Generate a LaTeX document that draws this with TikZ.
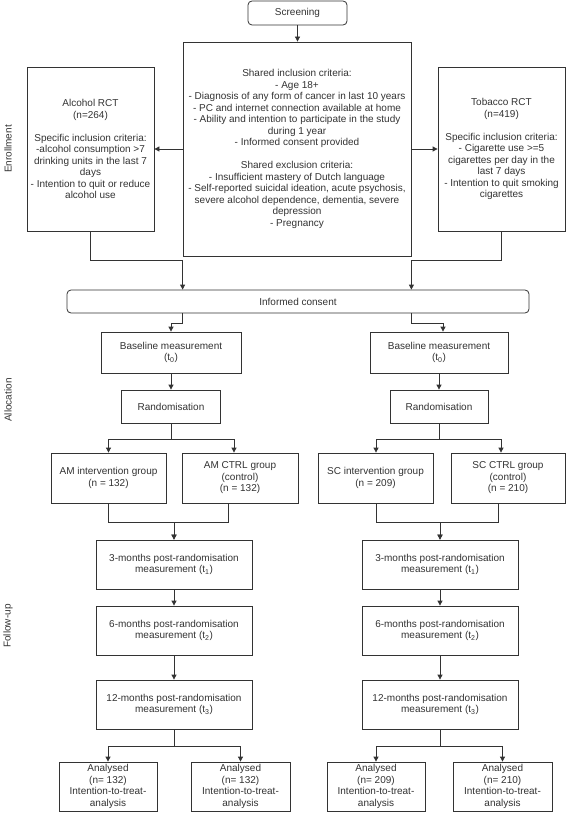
\documentclass[tikz,border=0pt]{standalone}
\usepackage{fontspec}
\setmainfont{Liberation Sans}
\usetikzlibrary{arrows.meta,calc}
\definecolor{linec}{HTML}{333333}
\definecolor{textc}{HTML}{333333}
\begin{document}
\begin{tikzpicture}[x=1pt,y=-1pt,
  box/.style={draw=linec, line width=0.8pt, fill=white, align=center, inner sep=0pt, text=textc, font=\fontsize{10}{11.5}\selectfont},
  rbox/.style={box, rounded corners=4pt},
  arr/.style={draw=linec, line width=0.8pt, -{Triangle[length=5pt,width=5pt]}},
  ln/.style={draw=linec, line width=0.8pt},
  lbl/.style={text=textc, font=\fontsize{10}{11.5}\selectfont, inner sep=0pt, rotate=90}]
\useasboundingbox (0,0) rectangle (567,813);
% top part
\node[rbox, minimum width=99pt, minimum height=24pt] (screen) at (297.5,13) {Screening};
\node[box, minimum width=228pt, minimum height=214pt] (shared) at (297,149) {Shared inclusion criteria:\\- Age 18+\\- Diagnosis of any form of cancer in last 10 years\\- PC and internet connection available at home\\- Ability and intention to participate in the study\\during 1 year\\- Informed consent provided\\[11.5pt]Shared exclusion criteria:\\- Insufficient mastery of Dutch language\\- Self-reported suicidal ideation, acute psychosis,\\severe alcohol dependence, dementia, severe\\depression\\- Pregnancy};
\node[box, minimum width=127pt, minimum height=164pt] (alc) at (90.5,149) {Alcohol RCT\\(n=264)\\[11.5pt]Specific inclusion criteria:\\-alcohol consumption >7\\drinking units in the last 7\\days\\- Intention to quit or reduce\\alcohol use};
\node[box, minimum width=127pt, minimum height=164pt] (tob) at (501.5,149) {Tobacco RCT\\(n=419)\\[11.5pt]Specific inclusion criteria:\\- Cigarette use >=5\\cigarettes per day in the\\last 7 days\\- Intention to quit smoking\\cigarettes};
\node[rbox, minimum width=462pt, minimum height=23pt] (consent) at (298,301.5) {Informed consent};
% allocation
\node[box, minimum width=140pt, minimum height=41pt] (base1) at (171,352.5) {Baseline measurement\\(t\textsubscript{0})};
\node[box, minimum width=138pt, minimum height=41pt] (base2) at (439,352.5) {Baseline measurement\\(t\textsubscript{0})};
\node[box, minimum width=99pt, minimum height=33pt] (rand1) at (171,406.5) {Randomisation};
\node[box, minimum width=98pt, minimum height=33pt] (rand2) at (439,406.5) {Randomisation};
\node[box, minimum width=115pt, minimum height=50pt] (am1) at (108.5,478) {AM intervention group\\(n = 132)};
\node[box, minimum width=116pt, minimum height=50pt] (am2) at (240,478) {AM CTRL group\\(control)\\(n = 132)};
\node[box, minimum width=115pt, minimum height=50pt] (sc1) at (375.5,478) {SC intervention group\\(n = 209)};
\node[box, minimum width=114pt, minimum height=50pt] (sc2) at (508,478) {SC CTRL group\\(control)\\(n = 210)};
% follow-up
\node[box, minimum width=156pt, minimum height=49pt] (m3a) at (174,564.5) {3-months post-randomisation\\measurement (t\textsubscript{1})};
\node[box, minimum width=156pt, minimum height=49pt] (m6a) at (174,630.5) {6-months post-randomisation\\measurement (t\textsubscript{2})};
\node[box, minimum width=156pt, minimum height=49pt] (m12a) at (174,704.5) {12-months post-randomisation\\measurement (t\textsubscript{3})};
\node[box, minimum width=156pt, minimum height=49pt] (m3b) at (440,564.5) {3-months post-randomisation\\measurement (t\textsubscript{1})};
\node[box, minimum width=156pt, minimum height=49pt] (m6b) at (440,630.5) {6-months post-randomisation\\measurement (t\textsubscript{2})};
\node[box, minimum width=156pt, minimum height=49pt] (m12b) at (440,704.5) {12-months post-randomisation\\measurement (t\textsubscript{3})};
\node[box, minimum width=98pt, minimum height=49pt] (an1) at (108,786.5) {Analysed\\(n= 132)\\Intention-to-treat-\\analysis};
\node[box, minimum width=99pt, minimum height=49pt] (an2) at (240.5,786.5) {Analysed\\(n= 132)\\Intention-to-treat-\\analysis};
\node[box, minimum width=98pt, minimum height=49pt] (an3) at (376,786.5) {Analysed\\(n= 209)\\Intention-to-treat-\\analysis};
\node[box, minimum width=99pt, minimum height=49pt] (an4) at (502.5,786.5) {Analysed\\(n= 210)\\Intention-to-treat-\\analysis};
% side labels
\node[lbl] (enr) at (8,149) {Enrollment};
\node[lbl] (allo) at (8,400) {Allocation};
\node[lbl] (fol) at (8,626) {Follow-up};
% connectors
\draw[arr] (screen.south) -- (screen.south |- shared.north);
\draw[arr] (shared.west) -- (alc.east);
\draw[arr] (shared.east) -- (tob.west);
\draw[arr] (alc.south) -- ++(0,29) -| (consent.north -| shared.west);
\draw[arr] (tob.south) -- ++(0,29) -| (consent.north -| shared.east);
\draw[arr] (consent.south -| shared.west) -- ++(0,10) -| (base1.north);
\draw[arr] (consent.south -| shared.east) -- ++(0,10) -| ($(base2.north)+(4,0)$);
\draw[arr] (base1) -- (rand1);
\draw[arr] (base2) -- (rand2);
\draw[arr] (rand1.south) -- ++(0,16) -| (am1.north);
\draw[arr] (rand1.south) -- ++(0,16) -| ($(am2.north)+(-6,0)$);
\draw[arr] (rand2.south) -- ++(0,16) -| ($(sc1.north)+(0.5,0)$);
\draw[arr] (rand2.south) -- ++(0,16) -| ($(sc2.north)+(-7,0)$);
\draw[arr] (am1.south) -- ++(0,19) -| (m3a.north);
\draw[arr] ($(am2.south)+(-12,0)$) -- ++(0,19) -| (m3a.north);
\draw[arr] ($(sc1.south)+(0.5,0)$) -- ++(0,19) -| (m3b.north);
\draw[arr] ($(sc2.south)+(-10,0)$) -- ++(0,19) -| (m3b.north);
\draw[arr] (m3a) -- (m6a);
\draw[arr] (m6a) -- (m12a);
\draw[arr] (m3b) -- (m6b);
\draw[arr] (m6b) -- (m12b);
\draw[arr] (m12a.south) -- ++(0,17) -| (an1.north);
\draw[arr] (m12a.south) -- ++(0,17) -| (an2.north);
\draw[arr] (m12b.south) -- ++(0,17) -| (an3.north);
\draw[arr] (m12b.south) -- ++(0,17) -| (an4.north);
\end{tikzpicture}
\end{document}
